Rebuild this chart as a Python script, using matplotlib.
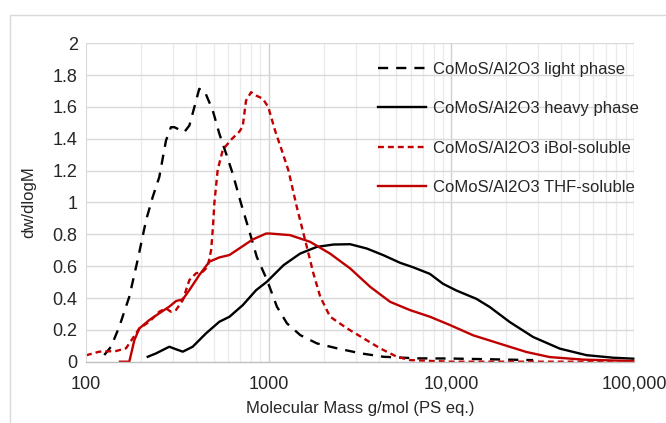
import matplotlib
matplotlib.use('Agg')
import matplotlib.pyplot as plt
import matplotlib.patches as mpatches
import numpy as np

plt.rcParams['font.family'] = ['Liberation Sans', 'DejaVu Sans']

# ---- data (log10 of molecular mass, dw/dlogM) ----
light_logM = [2.100, 2.137, 2.182, 2.237, 2.283, 2.329, 2.365, 2.401, 2.438, 2.465, 2.484,
              2.538, 2.566, 2.593, 2.620, 2.648, 2.694, 2.730, 2.767, 2.803, 2.849, 2.898,
              2.935, 2.990, 3.045, 3.100, 3.173, 3.264, 3.374, 3.501, 3.628, 3.811, 3.993, 4.448]
light_y = [0.042, 0.094, 0.219, 0.408, 0.640, 0.889, 1.034, 1.159, 1.390, 1.473, 1.473,
           1.442, 1.484, 1.598, 1.714, 1.703, 1.578, 1.432, 1.307, 1.182, 0.993, 0.805,
           0.658, 0.516, 0.346, 0.241, 0.167, 0.115, 0.084, 0.053, 0.031, 0.021, 0.020, 0.010]

heavy_logM = [2.338, 2.383, 2.456, 2.493, 2.530, 2.584, 2.657, 2.730, 2.785, 2.858, 2.931,
              2.990, 3.081, 3.172, 3.263, 3.354, 3.446, 3.537, 3.628, 3.720, 3.791, 3.882,
              3.955, 4.028, 4.137, 4.211, 4.320, 4.448, 4.594, 4.740, 4.886, 4.996]
heavy_y = [0.031, 0.052, 0.094, 0.078, 0.063, 0.094, 0.178, 0.251, 0.282, 0.355, 0.449,
           0.502, 0.606, 0.679, 0.721, 0.736, 0.738, 0.711, 0.669, 0.621, 0.593, 0.552,
           0.489, 0.447, 0.395, 0.343, 0.249, 0.155, 0.082, 0.041, 0.025, 0.019]

ibol_logM = [2.000, 2.073, 2.164, 2.219, 2.256, 2.292, 2.347, 2.401, 2.438, 2.465, 2.493,
             2.530, 2.566, 2.602, 2.639, 2.666, 2.685, 2.695, 2.703, 2.721, 2.749, 2.794,
             2.840, 2.858, 2.876, 2.904, 2.931, 2.968, 2.998, 3.035, 3.072, 3.108, 3.154,
             3.172, 3.209, 3.245, 3.282, 3.336, 3.428, 3.519, 3.610, 3.702, 3.774, 3.993, 5.000]
ibol_y = [0.040, 0.063, 0.067, 0.084, 0.147, 0.209, 0.251, 0.314, 0.335, 0.314, 0.325,
          0.387, 0.513, 0.555, 0.565, 0.596, 0.701, 0.846, 1.000, 1.206, 1.331, 1.394,
          1.446, 1.478, 1.640, 1.693, 1.672, 1.652, 1.599, 1.452, 1.327, 1.202, 0.972,
          0.890, 0.721, 0.554, 0.409, 0.283, 0.210, 0.147, 0.084, 0.031, 0.010, 0.000, 0.000]

thf_logM = [2.186, 2.237, 2.265, 2.292, 2.347, 2.401, 2.456, 2.493, 2.530, 2.566, 2.620,
            2.675, 2.730, 2.785, 2.840, 2.913, 2.986, 3.008, 3.117, 3.227, 3.336, 3.446,
            3.556, 3.665, 3.774, 3.884, 3.993, 4.119, 4.266, 4.411, 4.539, 4.722, 4.996]
thf_y = [0.000, 0.000, 0.136, 0.209, 0.262, 0.304, 0.346, 0.381, 0.392, 0.450, 0.544,
         0.628, 0.655, 0.670, 0.712, 0.768, 0.805, 0.805, 0.795, 0.753, 0.679, 0.586,
         0.470, 0.376, 0.324, 0.282, 0.230, 0.166, 0.113, 0.061, 0.029, 0.013, 0.004]

labels = ['CoMoS/Al2O3 light phase', 'CoMoS/Al2O3 heavy phase',
          'CoMoS/Al2O3 iBol-soluble', 'CoMoS/Al2O3 THF-soluble']
y_ticks = [0, 0.2, 0.4, 0.6, 0.8, 1, 1.2, 1.4, 1.6, 1.8, 2]
y_tick_labels = ['0', '0.2', '0.4', '0.6', '0.8', '1', '1.2', '1.4', '1.6', '1.8', '2']
x_ticks = [100, 1000, 10000, 100000]
x_tick_labels = ['100', '1000', '10,000', '100,000']

RED = '#C00000'

fig = plt.figure(figsize=(6.66, 4.23), dpi=100)
ax = fig.add_axes([86/666, 1 - 361.7/423, (634 - 86)/666, (361.7 - 43.3)/423])

# outer chart border
fig.patches.append(mpatches.Rectangle((10/666, -0.2), 1.5, 1.2 - 15/423,
                                      transform=fig.transFigure, fill=False,
                                      edgecolor='#D9D9D9', lw=1.0, zorder=0))

ax.set_xscale('log')
ax.set_xlim(100, 100000)
ax.set_ylim(0, 2)

# grid
for dec in [100, 1000, 10000]:
    for k in range(2, 10):
        ax.axvline(dec * k, color='#EBEBEB', lw=1.0, zorder=0)
for v in [1000, 10000, 100000]:
    ax.axvline(v, color='#D0D0D0', lw=1.0, zorder=0.5)
for yv in y_ticks[1:]:
    ax.axhline(yv, color='#D9D9D9', lw=1.0, zorder=0.5)

for s in ['top', 'right']:
    ax.spines[s].set_visible(False)
ax.spines['left'].set_color('#D9D9D9')
ax.spines['bottom'].set_color('#BFBFBF')
ax.spines['bottom'].set_linewidth(1.0)

lw = 1.7
l1, = ax.plot(10**np.array(light_logM), light_y, color='black', lw=lw, dashes=(4.3, 3.4), label=labels[0])
l2, = ax.plot(10**np.array(heavy_logM), heavy_y, color='black', lw=lw, label=labels[1])
l3, = ax.plot(10**np.array(ibol_logM), ibol_y, color=RED, lw=lw, dashes=(2.5, 1.7), label=labels[2])
l4, = ax.plot(10**np.array(thf_logM), thf_y, color=RED, lw=lw, label=labels[3])
for l in (l1, l2, l3, l4):
    l.set_clip_on(False)

ax.set_yticks(y_ticks)
ax.set_yticklabels(y_tick_labels)
ax.set_xticks(x_ticks)
ax.set_xticklabels(x_tick_labels)
ax.xaxis.set_minor_locator(matplotlib.ticker.NullLocator())
ax.tick_params(axis='both', length=0, labelsize=13, colors='#000000')
ax.tick_params(axis='y', pad=6)
ax.tick_params(axis='x', pad=10)
for t in ax.get_xticklabels() + ax.get_yticklabels():
    t.set_color('#262626')

ax.set_xlabel('Molecular Mass g/mol (PS eq.)', fontsize=12, color='#262626', labelpad=6)
ax.set_ylabel('dw/dlogM', fontsize=12, color='#262626', labelpad=12)

leg = ax.legend(handles=[l1, l2, l3, l4], loc='upper left',
                bbox_to_anchor=(378/666, 1 - 62/423), bbox_transform=fig.transFigure,
                frameon=False, fontsize=12, handlelength=2.9, handletextpad=0.4,
                labelspacing=1.46, borderpad=0, borderaxespad=0)
for t in leg.get_texts():
    t.set_color('#262626')

fig.savefig('out.png', dpi=100)
